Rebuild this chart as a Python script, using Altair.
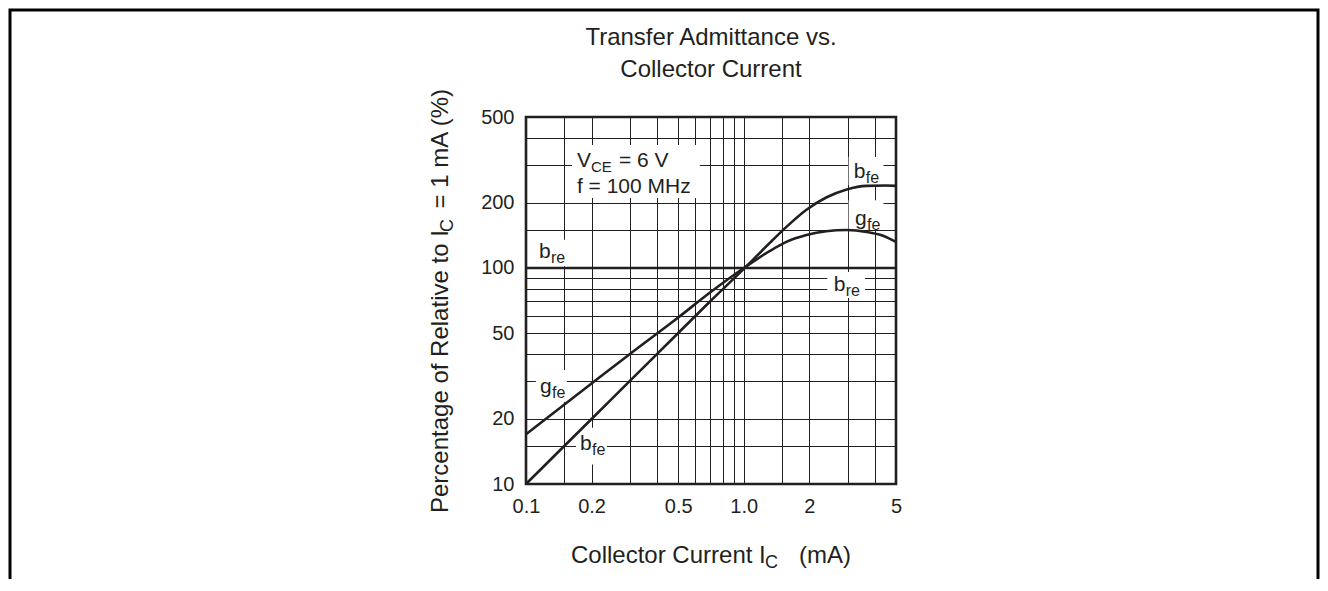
import altair as alt
import pandas as pd

# ---- data ----
gfe_x = [0.1, 0.2, 0.3, 0.5, 0.7, 1.0, 1.15, 1.32, 1.57, 1.94, 2.39, 2.97, 3.66, 4.36, 5.0]
gfe_y = [17, 29.2, 40, 59, 77, 100, 110, 120, 132, 142, 148, 150, 147, 141, 132]
bfe_x = [0.1, 0.2, 0.3, 0.5, 0.7, 1.0, 1.15, 1.32, 1.57, 1.94, 2.39, 2.97, 3.66, 4.52, 5.0]
bfe_y = [10, 20, 30, 50, 70, 99, 114, 131, 155, 186, 212, 231, 240, 241, 240]
bre_x = [0.1, 5.0]
bre_y = [100, 100]

x_grid = [0.1, 0.15, 0.2, 0.3, 0.4, 0.5, 0.6, 0.7, 0.8, 0.9, 1.0, 1.5, 2, 3, 4, 5]
y_grid = [10, 15, 20, 30, 40, 50, 60, 70, 80, 90, 100, 150, 200, 300, 400, 500]
x_labels = [0.1, 0.2, 0.5, 1.0, 2, 5]
y_labels = [10, 20, 50, 100, 200, 500]

# curve labels: main letter, subscript, anchor position (data coords)
lab_main = ["b", "g", "b", "b", "g", "b"]
lab_sub = ["fe", "fe", "re", "re", "fe", "fe"]
lab_x = [3.2, 3.24, 0.1147, 2.59, 0.116, 0.177]
lab_y = [261, 158, 111, 78.3, 26.4, 14.4]

# white label backgrounds (data coords)
box_x1 = [3.03, 3.03, 0.110, 2.42, 0.111, 0.1696, 0.1626]
box_x2 = [4.38, 4.38, 0.156, 3.60, 0.154, 0.235, 0.628]
box_y1 = [242, 151, 102, 72.6, 24.0, 12.3, 211]
box_y2 = [326, 206, 135, 95.8, 33.7, 18.2, 371]

cond_x = [0.1713, 0.1713]
cond_y = [293, 222]

INK = "#231f20"
FONT = "Liberation Sans"

curves = pd.concat([
    pd.DataFrame({"x": gfe_x, "y": gfe_y, "s": "gfe"}),
    pd.DataFrame({"x": bfe_x, "y": bfe_y, "s": "bfe"}),
])
bre = pd.DataFrame({"x": bre_x, "y": bre_y})
labels = pd.DataFrame({"main": lab_main, "sub": lab_sub, "x": lab_x, "y": lab_y})
boxes = pd.DataFrame({"x1": box_x1, "x2": box_x2, "y1": box_y1, "y2": box_y2})

xs = alt.Scale(type="log", domain=[0.1, 5], nice=False)
ys = alt.Scale(type="log", domain=[10, 500], nice=False)

xlab_expr = ("indexof([" + ",".join(str(v) for v in x_labels) + "], datum.value) >= 0 ? "
             "(datum.value == 1 ? '1.0' : '' + datum.value) : ''")
ylab_expr = ("indexof([" + ",".join(str(v) for v in y_labels) + "], datum.value) >= 0 ? "
             "'' + datum.value : ''")

xaxis = alt.Axis(values=x_grid, grid=True, ticks=False, tickSize=0, domain=False,
                 labelExpr=xlab_expr, labelFontSize=20, labelPadding=12, title=None,
                 gridColor=INK, gridWidth=1, gridOpacity=1, labelColor=INK,
                 labelFont=FONT, labelOverlap=False, labelFlush=False)
yaxis = alt.Axis(values=y_grid, grid=True, ticks=False, tickSize=0, domain=False,
                 labelExpr=ylab_expr, labelFontSize=20, labelPadding=12, title=None,
                 gridColor=INK, gridWidth=1, gridOpacity=1, labelColor=INK,
                 labelFont=FONT, labelOverlap=False, labelFlush=False)

box_layer = alt.Chart(boxes).mark_rect(fill="white", stroke=None).encode(
    x=alt.X("x1:Q", scale=xs, axis=xaxis),
    x2="x2:Q",
    y=alt.Y("y1:Q", scale=ys, axis=yaxis),
    y2="y2:Q",
)

line_layer = alt.Chart(curves).mark_line(color=INK, strokeWidth=2.6, interpolate="monotone").encode(
    x=alt.X("x:Q", scale=xs), y=alt.Y("y:Q", scale=ys), detail="s:N"
)
bre_layer = alt.Chart(bre).mark_line(color=INK, strokeWidth=2.6).encode(
    x=alt.X("x:Q", scale=xs), y=alt.Y("y:Q", scale=ys)
)

main_text = alt.Chart(labels).mark_text(align="left", baseline="alphabetic", fontSize=21,
                                         font=FONT, color=INK).encode(
    x=alt.X("x:Q", scale=xs), y=alt.Y("y:Q", scale=ys), text="main:N")
sub_text = alt.Chart(labels).mark_text(align="left", baseline="alphabetic", fontSize=16,
                                        font=FONT, color=INK, dx=12, dy=5).encode(
    x=alt.X("x:Q", scale=xs), y=alt.Y("y:Q", scale=ys), text="sub:N")

cond = pd.DataFrame({"x": cond_x, "y": cond_y})
cond1 = cond.iloc[[0]]
cond2 = cond.iloc[[1]]
v_main = alt.Chart(cond1).mark_text(align="left", baseline="alphabetic", fontSize=21, font=FONT,
                                    color=INK, text="V").encode(
    x=alt.X("x:Q", scale=xs), y=alt.Y("y:Q", scale=ys))
v_sub = alt.Chart(cond1).mark_text(align="left", baseline="alphabetic", fontSize=15, font=FONT,
                                   color=INK, text="CE", dx=14, dy=5).encode(
    x=alt.X("x:Q", scale=xs), y=alt.Y("y:Q", scale=ys))
v_rest = alt.Chart(cond1).mark_text(align="left", baseline="alphabetic", fontSize=21, font=FONT,
                                    color=INK, text="= 6 V", dx=42).encode(
    x=alt.X("x:Q", scale=xs), y=alt.Y("y:Q", scale=ys))
f_line = alt.Chart(cond2).mark_text(align="left", baseline="alphabetic", fontSize=21, font=FONT,
                                    color=INK, text="f = 100 MHz").encode(
    x=alt.X("x:Q", scale=xs), y=alt.Y("y:Q", scale=ys))

one = pd.DataFrame({"a": [0]})


def ptext(txt, px, py, size, align="left", angle=0):
    kw = dict(align=align, baseline="alphabetic", fontSize=size, font=FONT, color=INK, text=txt)
    if angle:
        kw["angle"] = angle
    return alt.Chart(one).mark_text(**kw).encode(x=alt.value(px), y=alt.value(py))


title1 = ptext("Transfer Admittance vs.", 185, -72, 24, align="center")
title2 = ptext("Collector Current", 185, -40, 24, align="center")

xt1 = ptext("Collector Current  I", 45, 446, 24)
xt2 = ptext("C", 239, 451, 18)
xt3 = ptext("(mA)", 325, 446, 24, align="right")

yt1 = ptext("Percentage of Relative to I", -78, 396, 24, angle=270)
yt2 = ptext("C", -73, 115, 18, angle=270)
yt3 = ptext("= 1 mA  (%)", -78, -28, 24, align="right", angle=270)

frame = alt.Chart(one).mark_rect(fillOpacity=0, stroke="black", strokeWidth=3).encode(
    x=alt.value(-516), x2=alt.value(792), y=alt.value(-107), y2=alt.value(640))

chart = alt.layer(
    box_layer, line_layer, bre_layer, main_text, sub_text,
    v_main, v_sub, v_rest, f_line,
    title1, title2, xt1, xt2, xt3, yt1, yt2, yt3, frame,
).properties(
    width=370, height=367,
    padding={"left": 518, "top": 109, "right": 424, "bottom": 95},
    autosize=alt.AutoSizeParams(type="none"),
).configure_view(
    stroke=INK, strokeWidth=2.6
)

chart.save("out.html", embed_options={"renderer": "svg", "actions": False})
